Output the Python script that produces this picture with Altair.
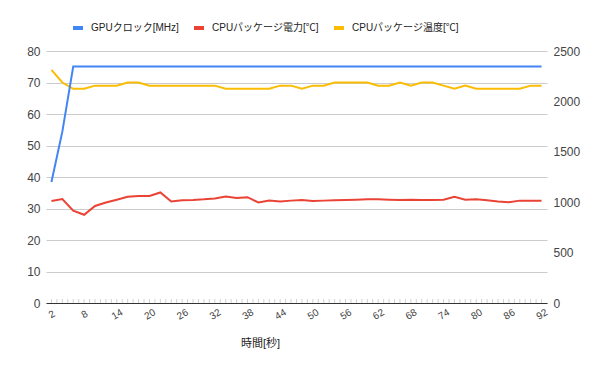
import altair as alt
import pandas as pd

# ---- data ----
seconds = [2, 4, 6, 8, 10, 12, 14, 16, 18, 20, 22, 24, 26, 28, 30, 32, 34, 36, 38, 40,
           42, 44, 46, 48, 50, 52, 54, 56, 58, 60, 62, 64, 66, 68, 70, 72, 74, 76, 78, 80,
           82, 84, 86, 88, 90, 92]
gpu_clock = [1200, 1700, 2345, 2345, 2345, 2345, 2345, 2345, 2345, 2345, 2345, 2345,
             2345, 2345, 2345, 2345, 2345, 2345, 2345, 2345, 2345, 2345, 2345, 2345,
             2345, 2345, 2345, 2345, 2345, 2345, 2345, 2345, 2345, 2345, 2345, 2345,
             2345, 2345, 2345, 2345, 2345, 2345, 2345, 2345, 2345, 2345]
cpu_power = [32.4, 33.0, 29.3, 28.0, 30.8, 31.9, 32.8, 33.7, 34.0, 34.0, 35.1, 32.2,
             32.6, 32.7, 32.9, 33.2, 33.8, 33.3, 33.6, 31.9, 32.5, 32.2, 32.5, 32.7,
             32.4, 32.5, 32.6, 32.7, 32.8, 32.9, 32.9, 32.8, 32.7, 32.8, 32.7, 32.7,
             32.8, 33.7, 32.8, 32.9, 32.6, 32.2, 32.0, 32.5, 32.5, 32.5]
cpu_temp = [74, 70, 68, 68, 69, 69, 69, 70, 70, 69, 69, 69, 69, 69, 69, 69, 68, 68,
            68, 68, 68, 69, 69, 68, 69, 69, 70, 70, 70, 70, 69, 69, 70, 69, 70, 70,
            69, 68, 69, 68, 68, 68, 68, 68, 69, 69]

series_names = ["GPUクロック[MHz]", "CPUパッケージ電力[℃]", "CPUパッケージ温度[℃]"]
series_colors = ["#4285F4", "#EA4335", "#FBBC04"]
x_tick_labels = [2, 8, 14, 20, 26, 32, 38, 44, 50, 56, 62, 68, 74, 80, 86, 92]
x_minor_ticks = list(range(2, 93))
left_ticks = [0, 10, 20, 30, 40, 50, 60, 70, 80]
right_ticks = [0, 500, 1000, 1500, 2000, 2500]

FONT = "Liberation Sans, Noto Sans CJK JP, sans-serif"
W, H = 501, 252

df = pd.DataFrame({
    "秒": seconds,
    series_names[0]: gpu_clock,
    series_names[1]: cpu_power,
    series_names[2]: cpu_temp,
})
long = df.melt(id_vars="秒", var_name="系列", value_name="値")
ticks_df = pd.DataFrame({"秒": x_minor_ticks})

x_enc = alt.X(
    "秒:Q",
    scale=alt.Scale(domain=[1, 93], nice=False, zero=False),
    axis=alt.Axis(
        values=x_tick_labels, title="時間[秒]", labelAngle=-30, labelAlign="center",
        labelBaseline="middle", labelPadding=11, labelFontSize=10, labelColor="#444",
        labelFont=FONT, ticks=False, tickSize=0, grid=False, domainColor="#333",
        labelOverlap=False, labelFlush=False,
        titleFont=FONT, titleFontSize=11, titleFontWeight="normal", titleColor="#222",
        titleX=214, titleY=40, titleAlign="center", titleBaseline="middle",
    ),
)

legend = alt.Legend(
    orient="none", legendX=25, legendY=-30, direction="horizontal", title=None,
    symbolType="stroke", symbolStrokeWidth=4, symbolSize=100,
    labelFont=FONT, labelFontSize=10, labelColor="#222", labelOffset=6,
    columnPadding=7, padding=0,
)
color_enc = alt.Color(
    "系列:N", scale=alt.Scale(domain=series_names, range=series_colors),
    legend=legend, sort=series_names,
)

left = alt.Chart(long).transform_filter(
    alt.FieldOneOfPredicate(field="系列", oneOf=series_names[1:])
).mark_line(strokeWidth=2).encode(
    x=x_enc,
    y=alt.Y("値:Q", scale=alt.Scale(domain=[0, 80], nice=False),
            axis=alt.Axis(values=left_ticks, title=None, orient="left", grid=True,
                          gridColor="#cccccc", domain=False, ticks=False,
                          labelPadding=6, labelFontSize=12, labelColor="#444",
                          labelFont=FONT)),
    color=color_enc,
)

right = alt.Chart(long).transform_filter(
    alt.FieldEqualPredicate(field="系列", equal=series_names[0])
).mark_line(strokeWidth=2).encode(
    x=x_enc,
    y=alt.Y("値:Q", scale=alt.Scale(domain=[0, 2500], nice=False),
            axis=alt.Axis(values=right_ticks, title=None, orient="right", grid=False,
                          domain=False, ticks=False, labelPadding=6, format="d",
                          labelFontSize=12, labelColor="#444", labelFont=FONT)),
    color=color_enc,
)

minor = alt.Chart(ticks_df).mark_rule(color="#d2d2d2", strokeWidth=1).encode(
    x=x_enc,
    y=alt.value(H - 4),
    y2=alt.value(H),
)

chart = alt.layer(minor, left, right).resolve_scale(y="independent").properties(
    width=W, height=H,
    padding={"left": 38, "top": 43, "right": 45, "bottom": 60},
    autosize=alt.AutoSizeParams(type="none"),
).configure(font=FONT).configure_view(stroke=None)

chart.save("out.html", embed_options={"renderer": "svg", "actions": False})
